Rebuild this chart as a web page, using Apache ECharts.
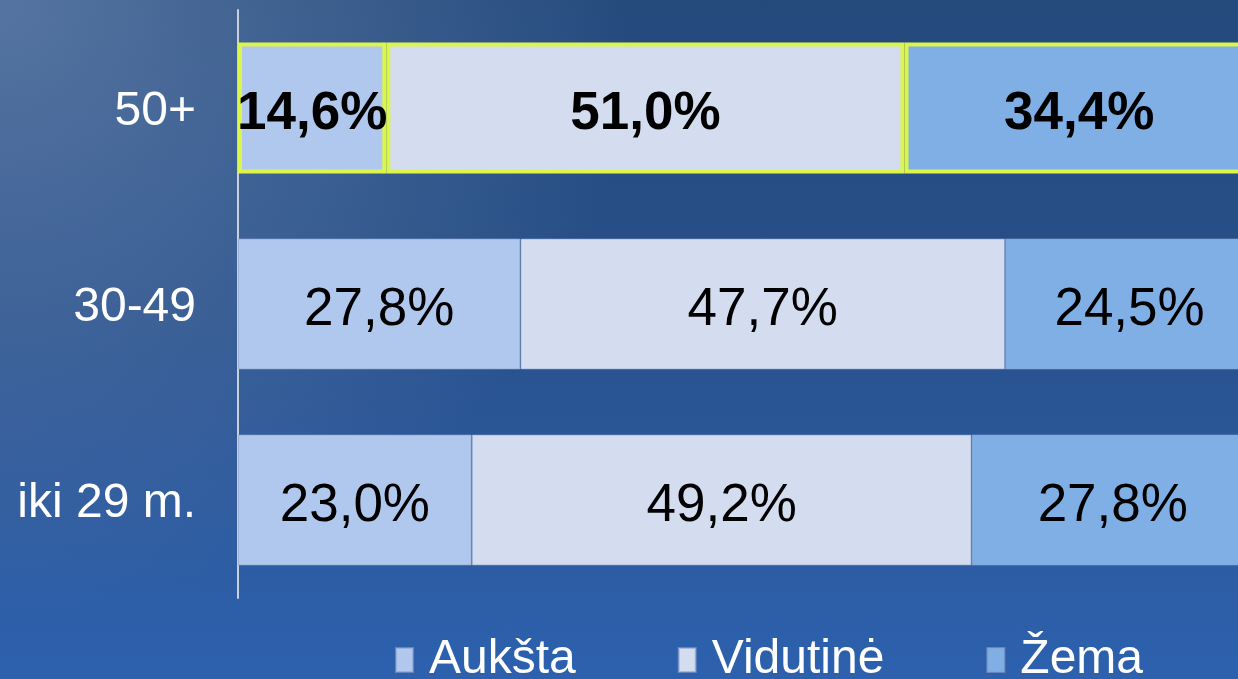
<!DOCTYPE html>
<html>
<head>
<meta charset="utf-8">
<script src="https://cdn.jsdelivr.net/npm/echarts@6/dist/echarts.min.js"></script>
<style>
  html, body { margin: 0; padding: 0; }
  #chart {
    width: 1238px; height: 679px;
    background:
      radial-gradient(ellipse 640px 620px at 0px 0px, rgba(125,150,190,0.55), rgba(125,150,190,0) 100%),
      linear-gradient(180deg, #244a7c 0%, #28508a 45%, #2c5a9e 75%, #2d61ae 100%);
  }
</style>
</head>
<body>
<div id="chart"></div>
<script>
const categories = ['iki 29 m.', '30-49', '50+']
const seriesNames = ['Aukšta', 'Vidutinė', 'Žema']
const aukstaValues = [23.0, 27.8, 14.6]
const vidutineValues = [49.2, 47.7, 51.0]
const zemaValues = [27.8, 24.5, 34.4]

const colors = ['#b0c8ee', '#d4ddef', '#80afe5']
const fontFamily = '"Liberation Sans", Arial, sans-serif'

// 50+ eilutė paryškinta geltonu rėmeliu
const highlightIndex = 2

const makeData = (values) => values.map((v, i) => {
  if (i !== highlightIndex) return v
  return {
    value: v,
    itemStyle: { borderColor: '#dcf54a', borderWidth: 4 },
    label: { fontWeight: 'bold' }
  }
})

const allValues = [aukstaValues, vidutineValues, zemaValues]

const chart = echarts.init(document.getElementById('chart'))

chart.setOption({
  backgroundColor: 'transparent',
  animation: false,
  grid: { left: 238, top: 10, bottom: 81, width: 1016, outerBoundsMode: 'none' },
  xAxis: {
    type: 'value',
    min: 0,
    max: 100,
    show: false
  },
  yAxis: {
    type: 'category',
    data: categories,
    axisLine: { show: true, lineStyle: { color: '#c8d0dc', width: 2 } },
    axisTick: { show: false },
    axisLabel: {
      margin: 42,
      // tuščia viršutinė eilutė nustumia tekstą kiek žemiau
      formatter: (v) => '{s|}\n{t|' + v + '}',
      rich: {
        s: { height: 8, lineHeight: 8, fontSize: 8 },
        t: { color: '#ffffff', fontSize: 48, fontFamily: fontFamily, lineHeight: 56 }
      }
    }
  },
  legend: {
    data: seriesNames,
    left: 395,
    top: 636,
    padding: 0,
    itemWidth: 17,
    itemHeight: 24,
    itemGap: 102,
    icon: 'rect',
    textStyle: {
      color: '#ffffff',
      fontSize: 48,
      fontFamily: fontFamily,
      padding: [4, 0, 0, 11]
    }
  },
  series: seriesNames.map((name, k) => ({
    name: name,
    type: 'bar',
    stack: 'total',
    barWidth: 131,
    data: makeData(allValues[k]),
    itemStyle: {
      color: colors[k],
      borderColor: 'rgba(140,160,200,0.6)',
      borderWidth: 1
    },
    label: {
      show: true,
      position: 'inside',
      offset: [0, 6],
      color: '#000000',
      fontSize: 53,
      fontFamily: fontFamily,
      formatter: (p) => p.value.toFixed(1).replace('.', ',') + '%'
    }
  }))
})
</script>
</body>
</html>
